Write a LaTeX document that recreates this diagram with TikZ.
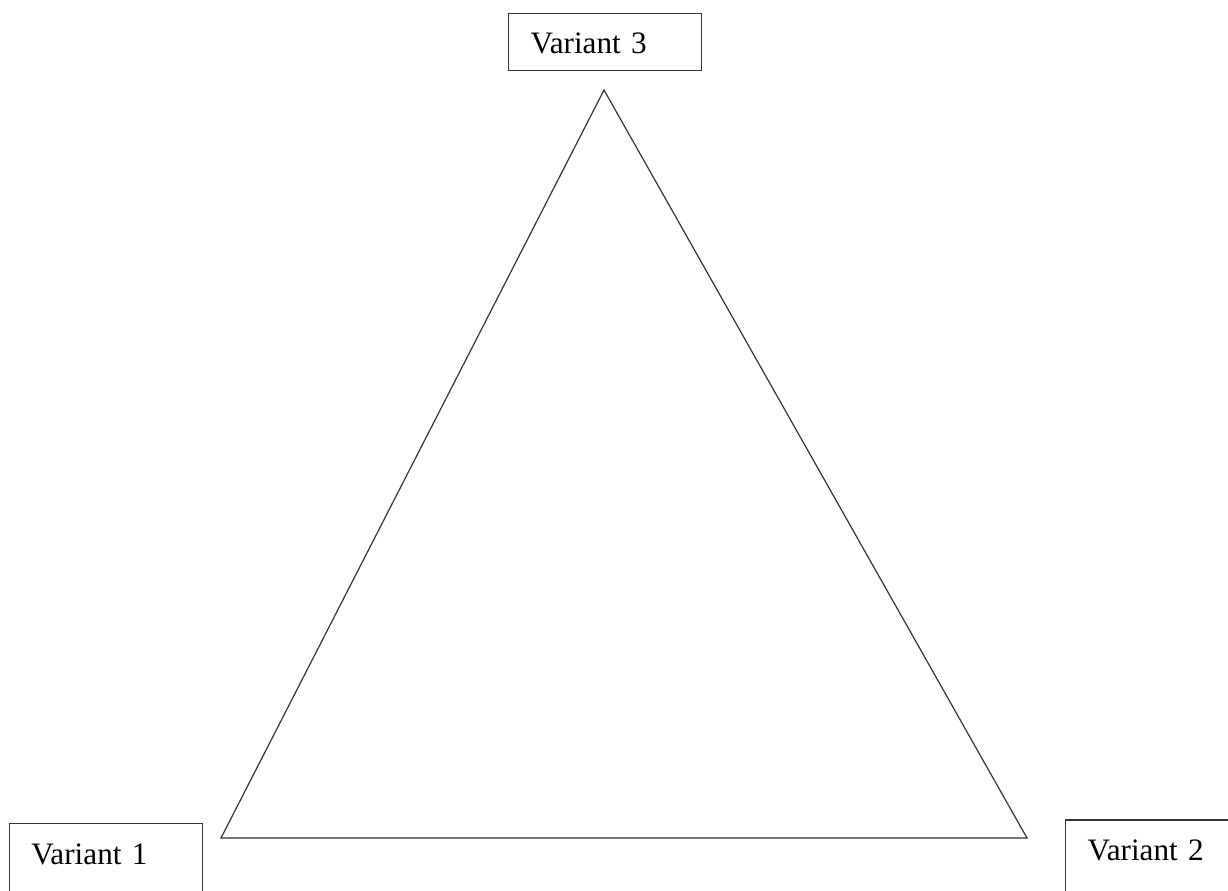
\documentclass[tikz,border=0pt]{standalone}
\usepackage{fontspec}
\setmainfont{Liberation Serif}

\begin{document}
\begin{tikzpicture}[
      x=0.75pt, y=-0.75pt,
      box/.style={draw=black!80, line width=1pt, anchor=north west, align=left,
        inner ysep=0pt, font=\fontsize{23.4}{28}\selectfont},
      edge/.style={draw=black!80, line width=0.9pt, line join=miter}
    ]
    \useasboundingbox (0,0) rectangle (1228,890);

    % Variant 3
    \node[box, inner xsep=16.5pt, text width=111.5pt, text height=30.2pt, text depth=12.75pt]
      (v3) at (508,12.7) {Variant 3};

    % Variant 1
    \node[box, inner xsep=16.3pt, text width=111.9pt, text height=31pt, text depth=22.5pt]
      (v1) at (9,822.7) {Variant 1};

    % Variant 2
    \node[box, inner xsep=16.5pt, text width=117pt, text height=30.5pt, text depth=25.5pt]
      (v2) at (1065,819.3) {Variant 2};

    % triangle
    \coordinate (top) at (604,90);
    \coordinate (left) at (221,838);
    \coordinate (right) at (1027,838);
    \draw[edge] (top) -- (left) -- (right) -- cycle;
  \end{tikzpicture}
\end{document}
